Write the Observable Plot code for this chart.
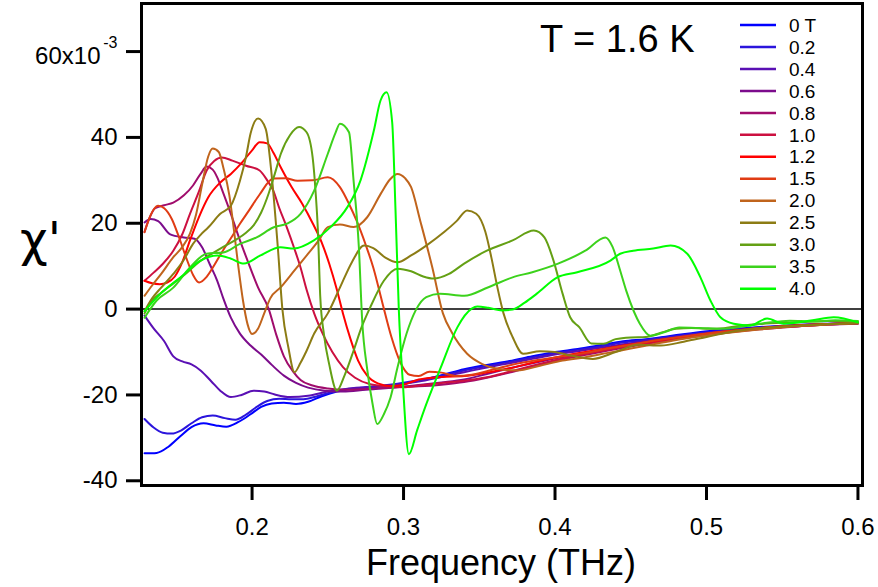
<!DOCTYPE html>
<html><head><meta charset="utf-8">
<script src="https://cdn.jsdelivr.net/npm/d3@7"></script>
<script src="https://cdn.jsdelivr.net/npm/@observablehq/plot@0.6"></script>
<style>
html,body{margin:0;padding:0;background:#fff;}
#chart svg{display:block;}
</style></head><body><div id="chart"></div>
<script>
const fields = ["0 T","0.2","0.4","0.6","0.8","1.0","1.2","1.5","2.0","2.5","3.0","3.5","4.0"];
const colors = ["#0000ff","#2b15dc","#5a10b4","#7c0c8c","#a00c6c","#cc1040","#ff0000","#e03c14","#c0641c","#8c7c14","#64a014","#3cd21c","#00ff00"];
const xTicks = [0.2,0.3,0.4,0.5,0.6];
const yTicks = [-40,-20,0,20,40,60];

const tail_freq = [0.31,0.325,0.34,0.355,0.37,0.385,0.4,0.415,0.43,0.445,0.46,0.475,0.49,0.505,0.52,0.535,0.55,0.565,0.58,0.6];

const freq_00 = [0.129,0.137,0.145,0.153,0.16,0.168,0.176,0.183,0.191,0.199,0.206,0.213,0.221,0.229,0.237,0.246,0.256,0.266,0.276,0.286,0.296, ...tail_freq];
const chi_00 = [-33.6,-33.5,-32,-29.5,-27.5,-26.6,-27.1,-27.4,-26.3,-24.5,-22.8,-22,-21.8,-22.1,-21.6,-20.3,-19.2,-18.6,-18.3,-18,-17.6,
  -16.7,-15.4,-14,-13,-12.1,-11,-10,-9.3,-8.4,-7.5,-7,-6.3,-5.6,-5,-4.6,-4.2,-3.9,-3.6,-3.4,-3.2];

const freq_02 = [0.129,0.135,0.141,0.147,0.153,0.16,0.167,0.174,0.182,0.189,0.196,0.203,0.21,0.218,0.226,0.234,0.242,0.252,0.262,0.272,0.284,0.296, ...tail_freq];
const chi_02 = [-25.6,-27.6,-28.8,-29,-28.3,-26.6,-25.2,-24.8,-25.4,-25.8,-24.6,-22.8,-21.4,-20.9,-21,-21,-20.4,-19.4,-18.7,-18.3,-17.9,-17.4,
  -16.6,-15.5,-14.3,-13.3,-12.3,-11.3,-10.3,-9.5,-8.7,-7.8,-7.2,-6.5,-5.8,-5.2,-4.7,-4.3,-4,-3.7,-3.5,-3.2];

const freq_04 = [0.129,0.135,0.142,0.148,0.154,0.16,0.166,0.173,0.179,0.186,0.193,0.201,0.208,0.215,0.225,0.237,0.25,0.262,0.275,0.29, ...tail_freq];
const chi_04 = [-1.5,-4.5,-7.5,-11,-12.2,-12.9,-14.3,-16.8,-19,-20.5,-20,-19,-19.2,-19.9,-20.5,-20.2,-19.2,-18.6,-18.2,-17.8,
  -16.9,-15.8,-14.7,-13.6,-12.6,-11.6,-10.6,-9.8,-9,-8.2,-7.4,-6.7,-6,-5.4,-4.9,-4.5,-4.1,-3.8,-3.5,-3.3];

const freq_06 = [0.129,0.133,0.138,0.146,0.155,0.162,0.167,0.172,0.177,0.181,0.186,0.192,0.199,0.206,0.213,0.221,0.229,0.237,0.248,0.26,0.275,0.29, ...tail_freq];
const chi_06 = [20.2,21,20.5,17.4,16.7,16.4,14.4,10.5,6.6,2.5,-2,-5.7,-8.5,-10.6,-13,-15.5,-17.2,-18.3,-19,-19.2,-18.8,-18.4,
  -17.7,-17.1,-16.4,-15.1,-13.8,-12.6,-11.5,-10.6,-9.6,-8.7,-7.9,-7,-6.3,-5.6,-5,-4.6,-4.2,-3.9,-3.6,-3.3];

const freq_08 = [0.129,0.132,0.136,0.142,0.148,0.155,0.161,0.166,0.17,0.174,0.177,0.181,0.186,0.191,0.197,0.204,0.211,0.216,0.221,0.227,0.232,0.24,0.25,0.262,0.275,0.29, ...tail_freq];
const chi_08 = [18,21,23.5,24.2,24.8,26.5,28.8,31.5,33.2,32.5,30.7,27,22.2,17,11.3,5,0,-6,-11,-14.5,-16.5,-17.8,-18.5,-18.8,-18.6,-18.3,
  -18,-17.6,-17,-16,-14.8,-13.4,-12.1,-11,-10,-9,-8.1,-7.3,-6.5,-5.8,-5.2,-4.7,-4.3,-3.9,-3.6,-3.4];

const freq_10 = [0.129,0.135,0.141,0.148,0.154,0.159,0.165,0.17,0.175,0.18,0.187,0.196,0.205,0.21,0.214,0.218,0.223,0.228,0.232,0.236,0.241,0.247,0.253,0.26,0.268,0.278,0.29,0.3, ...tail_freq];
const chi_10 = [6.6,8.5,10.5,13.6,17.5,22.2,27.5,32.3,34.5,35.3,34.6,33.4,32.3,30,27.6,23.5,19,14,9.7,4.5,-1,-6,-10,-13.5,-16,-17.5,-18,-18.2,
  -17.8,-17.2,-16.7,-15.9,-14.6,-13.2,-11.9,-10.8,-9.8,-8.8,-8,-7.2,-6.4,-5.7,-5.1,-4.6,-4.2,-3.9,-3.6,-3.3];

const freq_12 = [0.129,0.134,0.139,0.144,0.149,0.154,0.159,0.165,0.171,0.179,0.186,0.193,0.2,0.205,0.21,0.214,0.219,0.226,0.233,0.24,0.246,0.251,0.256,0.26,0.265,0.27,0.276,0.283,0.292,0.3, ...tail_freq];
const chi_12 = [6.6,6,5.8,6.2,7.6,11,16,21.5,26,29.5,31.5,34,37,38.9,38.6,36.5,33,28.5,24.6,20,15.5,10.5,4.5,-1,-7,-12,-15.5,-17.3,-17.9,-17.6,
  -16.4,-15.8,-15.6,-14.8,-13.8,-12.5,-11.3,-10.3,-9.4,-8.5,-7.7,-6.9,-6.2,-5.5,-4.9,-4.4,-4,-3.7,-3.5,-3.2];

const freq_15 = [0.129,0.132,0.135,0.138,0.142,0.147,0.152,0.157,0.161,0.165,0.17,0.175,0.18,0.186,0.192,0.198,0.205,0.214,0.222,0.23,0.24,0.25,0.258,0.264,0.269,0.275,0.28,0.286,0.292,0.298,0.304,0.31,0.317,0.325,0.335,0.345,0.36,0.375,0.39,0.405,0.42,0.435,0.45,0.465,0.48,0.495,0.51,0.525,0.54,0.555,0.57,0.585,0.6];
const chi_15 = [17.9,21,23.2,24.1,23.5,21,16.5,11.5,8,6.2,7.5,10.2,13.2,16.5,19.9,23,26.7,30.4,30.5,29.9,30,30.7,28.4,24.5,20.6,15,9.7,1.5,-6.5,-12.5,-15.3,-15.6,-14.6,-14.8,-15.6,-15.3,-14,-12.7,-11.8,-11,-10.2,-9.2,-8.3,-7.4,-6.6,-5.9,-5.3,-4.8,-4.3,-3.9,-3.6,-3.4,-3.2];

const freq_20 = [0.129,0.134,0.14,0.148,0.154,0.159,0.163,0.167,0.171,0.174,0.178,0.181,0.185,0.188,0.191,0.194,0.197,0.2,0.204,0.208,0.212,0.219,0.228,0.237,0.244,0.25,0.258,0.267,0.276,0.285,0.291,0.296,0.301,0.305,0.311,0.319,0.326,0.332,0.342,0.352,0.362,0.375,0.39,0.405,0.42,0.435,0.45,0.465,0.48,0.495,0.51,0.525,0.54,0.555,0.57,0.585,0.6];
const chi_20 = [3.1,5.5,8.2,12.1,14.5,17.6,22,29,35.5,37.4,36.6,33,26.5,18.5,9.7,2,-3.5,-5.8,-4.5,-1,2.5,5.1,9,12.9,16,19.1,19.7,19.1,21.4,26.9,30.2,31.5,30.5,28.4,20.6,9.7,-1,-5.5,-10.4,-12.8,-13.9,-14.3,-13.2,-12,-11.2,-10.2,-9.2,-8.2,-7.2,-6.4,-5.7,-5.1,-4.6,-4.1,-3.8,-3.5,-3.3];

const freq_25 = [0.129,0.134,0.14,0.148,0.155,0.161,0.166,0.171,0.179,0.186,0.192,0.196,0.199,0.204,0.209,0.213,0.217,0.22,0.224,0.228,0.232,0.236,0.241,0.25,0.258,0.266,0.274,0.28,0.288,0.296,0.305,0.315,0.327,0.335,0.342,0.348,0.354,0.358,0.362,0.366,0.372,0.379,0.39,0.4,0.41,0.425,0.44,0.455,0.47,0.485,0.5,0.515,0.53,0.545,0.56,0.575,0.59,0.6];
const chi_25 = [-0.5,2.5,5,8.2,11.5,15.2,17.3,19,22.2,24.1,29.9,35.5,40.9,44.4,42,31,14.4,0,-9,-14.7,-12.5,-9.7,-5.7,-1,5,11,14.8,14.2,12,10.9,12.5,14.8,18,20.5,23,22.2,18,12,5,-1,-6.5,-10.4,-9.8,-10,-10.8,-11.6,-10,-8.3,-8.5,-7.6,-6.5,-5.4,-4.6,-4.2,-3.9,-3.6,-3.4,-3.3];

const freq_30 = [0.129,0.134,0.14,0.148,0.157,0.165,0.173,0.181,0.19,0.196,0.201,0.206,0.211,0.215,0.219,0.225,0.231,0.236,0.24,0.242,0.2435,0.245,0.2475,0.251,0.256,0.261,0.267,0.272,0.278,0.287,0.296,0.305,0.313,0.32,0.33,0.34,0.355,0.372,0.386,0.393,0.399,0.405,0.41,0.416,0.424,0.432,0.44,0.45,0.46,0.47,0.48,0.49,0.505,0.52,0.535,0.55,0.565,0.58,0.6];
const chi_30 = [-1,2,3.8,6,8.5,11,12.8,14.5,16.3,17.8,19.5,22.5,27,31.5,36.2,40.5,42.4,41.2,35.3,27,18,3,-6,-13,-19,-15.5,-9.7,-4.5,0.4,6.6,9.4,8.8,7.6,7.1,8.2,10.6,13.6,16,18.3,16.7,11.3,3.6,-1.9,-4.2,-8,-8.1,-7,-6.6,-6.5,-5.5,-4.6,-4.4,-4.6,-4,-3.5,-3.2,-3,-2.8,-3];

const freq_35 = [0.129,0.137,0.148,0.159,0.17,0.181,0.192,0.203,0.214,0.223,0.232,0.241,0.25,0.255,0.258,0.264,0.267,0.2705,0.2727,0.276,0.2795,0.2826,0.287,0.2914,0.296,0.302,0.308,0.315,0.324,0.34,0.356,0.372,0.385,0.402,0.42,0.4333,0.438,0.443,0.447,0.452,0.456,0.463,0.472,0.482,0.495,0.51,0.525,0.54,0.555,0.57,0.585,0.6];
const chi_35 = [-2,2,5,9.7,12.9,13.2,15.2,16.7,19,19.9,22.2,27.6,36.2,41,43.2,41.2,30,14.4,-2.7,-14,-22,-26.8,-24.5,-20.6,-13.6,-5.7,-0.3,2.8,3.6,3.1,5.1,7.4,8.6,10.6,13.6,16.7,14.5,9,4.3,-0.5,-3.4,-6.2,-5.4,-4.3,-4.4,-4.6,-4,-3.2,-2.7,-2.9,-2.6,-2.8];

const freq_40 = [0.129,0.1396,0.1528,0.166,0.177,0.1858,0.1946,0.2056,0.2188,0.2276,0.2408,0.2518,0.2628,0.2716,0.2804,0.2848,0.2888,0.2925,0.2947,0.2969,0.2995,0.3035,0.309,0.3134,0.3246,0.3356,0.345,0.3487,0.356,0.365,0.372,0.38,0.388,0.4015,0.4147,0.4366,0.443,0.4516,0.4648,0.4763,0.4873,0.496,0.5026,0.5092,0.518,0.529,0.54,0.551,0.57,0.584,0.6];
const chi_40 = [-0.5,3.6,7.4,11.3,12.5,11.8,10.6,12.5,14.4,14.1,16,19.1,23.7,30,41.6,48.6,50.5,43.5,23,-0.3,-17,-33.8,-28.2,-23.7,-13.6,-4.2,0.1,0.6,0.3,-0.3,-0.1,1.5,3.6,7.4,8.6,11.3,12.9,13.6,14.1,14.8,12.9,7.4,2,-1.9,-3.4,-3.8,-2.2,-3.4,-2.6,-1.9,-3.1];

const series = [
  [freq_00, chi_00],[freq_02, chi_02],[freq_04, chi_04],[freq_06, chi_06],[freq_08, chi_08],
  [freq_10, chi_10],[freq_12, chi_12],[freq_15, chi_15],[freq_20, chi_20],[freq_25, chi_25],
  [freq_30, chi_30],[freq_35, chi_35],[freq_40, chi_40]
];
const rows = [];
series.forEach(([fs, cs], i) => {
  if (fs.length !== cs.length) console.error("length mismatch", fields[i], fs.length, cs.length);
  fs.forEach((f, j) => rows.push({field: fields[i], f, v: cs[j]}));
});

const FONT = "'Liberation Sans', Arial, Helvetica, sans-serif";
const svg = Plot.plot({
  width: 878, height: 587,
  marginLeft: 141, marginRight: 16, marginTop: 3, marginBottom: 102,
  style: {fontFamily: FONT, background: "white", color: "black", overflow: "visible"},
  x: {domain: [0.127, 0.603]},
  y: {domain: [-41.1, 71.2]},
  color: {domain: fields, range: colors},
  marks: [
    Plot.ruleY([0], {stroke: "black", strokeWidth: 1.5}),
    Plot.line(rows, {x: "f", y: "v", z: "field", stroke: "field", strokeWidth: 2, curve: "monotone-x"}),
    Plot.frame({stroke: "black", strokeWidth: 3}),
    Plot.axisX({ticks: xTicks, tickSize: 15, tickPadding: 17, strokeWidth: 3, fontSize: 24, tickFormat: d => d.toFixed(1), label: null}),
    Plot.axisY({ticks: yTicks, tickSize: 15, tickPadding: 9, strokeWidth: 3, fontSize: 24, tickFormat: d => d === 60 ? "" : String(d), label: null}),
    Plot.text([60], {y: d => d, frameAnchor: "left", dx: -41, dy: 5, text: () => "60x10", textAnchor: "end", fontSize: 24}),
    Plot.text([60], {y: d => d, frameAnchor: "left", dx: -24, dy: -9, text: () => "-3", textAnchor: "end", fontSize: 16})
  ]
});
document.getElementById("chart").appendChild(svg);

const s = d3.select(svg);
// x axis title
s.append("text").attr("x", 501).attr("y", 575).attr("text-anchor", "middle")
  .attr("font-family", FONT).attr("font-size", 36).attr("fill", "black").text("Frequency (THz)");
// y axis title
s.append("text").attr("x", 20).attr("y", 256).attr("text-anchor", "start")
  .attr("font-family", "'DejaVu Sans', sans-serif").attr("font-size", 48).attr("fill", "black").text("χ'");
// temperature annotation
s.append("text").attr("x", 540).attr("y", 52).attr("text-anchor", "start")
  .attr("font-family", FONT).attr("font-size", 38).attr("fill", "black").text("T = 1.6 K");
// legend
const lg = s.append("g");
fields.forEach((name, i) => {
  const y = 25 + i * 21.97;
  lg.append("line").attr("x1", 740).attr("x2", 776).attr("y1", y).attr("y2", y)
    .attr("stroke", colors[i]).attr("stroke-width", 2.5);
  lg.append("text").attr("x", 789).attr("y", y).attr("dy", "0.35em").attr("text-anchor", "start")
    .attr("font-family", FONT).attr("font-size", 19).attr("fill", "black").text(name);
});
</script>
</body></html>
